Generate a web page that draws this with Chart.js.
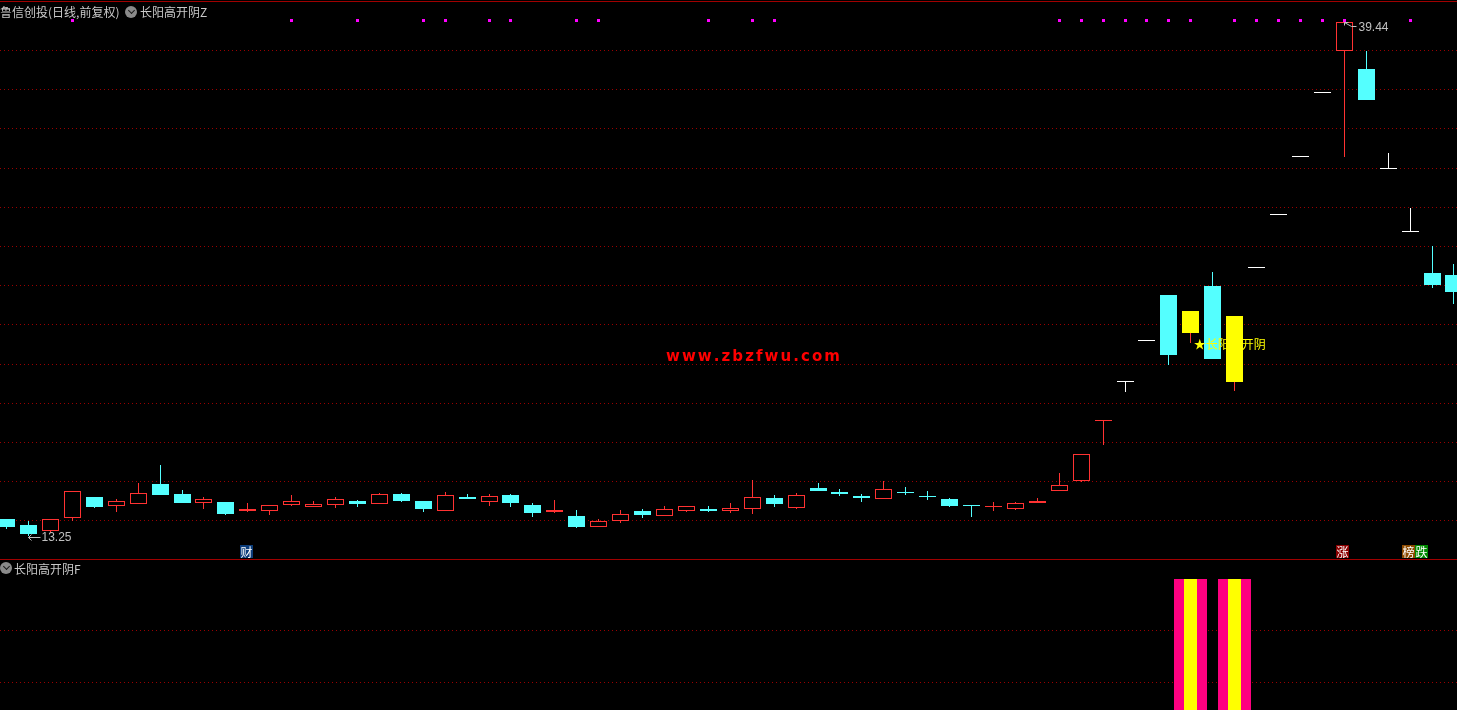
<!DOCTYPE html>
<html>
<head>
<meta charset="utf-8">
<script src="https://cdn.jsdelivr.net/npm/chart.js@4.4.1/dist/chart.umd.min.js"></script>
<style>
  html, body { margin: 0; padding: 0; background: #000; overflow: hidden; }
  #wrap { position: relative; width: 1457px; height: 710px; background: #000; }
  canvas { position: absolute; left: 0; }
  #main { top: 0; }
  #sub { top: 560px; }
  .rule { position: absolute; left: 0; width: 1457px; height: 1px; background: #a00000; }
  .title { position: absolute; font: 12px "Noto Sans CJK SC", sans-serif; color: #c8c8c8; white-space: nowrap; line-height: 13px; }
  .knob { position: absolute; width: 12px; height: 12px; border-radius: 50%; background: #8a8a8a; }
  .knob::after { content: ''; position: absolute; left: 3.5px; top: 2px; width: 4px; height: 4px;
    border-right: 1.5px solid #1a1a1a; border-bottom: 1.5px solid #1a1a1a; transform: rotate(45deg); }
</style>
</head>
<body>
<div id="wrap">
  <canvas id="main" width="1457" height="559"></canvas>
  <canvas id="sub" width="1457" height="150"></canvas>
  <div class="rule" style="top:1px"></div>
  <div class="rule" style="top:559px"></div>
  <div class="title" style="left:0;top:5px">鲁信创投(日线,前复权)</div>
  <div class="knob" style="left:125px;top:6px"></div>
  <div class="title" style="left:140px;top:5px">长阳高开阴Z</div>
  <div class="knob" style="left:0;top:562px"></div>
  <div class="title" style="left:14px;top:562px">长阳高开阴F</div>
</div>
<script>
// daily candles, oldest first
const opens  = [14.10,13.80,13.47,14.17,15.22,14.78,14.88,15.89,15.38,14.93,14.97,14.51,14.53,14.83,14.73,14.83,15.02,14.88,15.38,15.02,
                14.53,15.22,14.98,15.33,14.82,14.46,14.26,13.71,14.02,14.51,14.27,14.53,14.61,14.53,14.63,15.17,14.68,15.68,15.48,15.28,
                15.14,15.43,15.22,15.12,14.75,14.70,14.63,14.92,15.55,16.06,19.10,21.08,23.19,25.51,23.61,25.99,21.11,26.93,29.62,32.58,
                35.84,37.99,37.06,31.95,28.76,26.65,26.55];
const highs  = [14.12,14.00,14.09,15.53,15.22,15.12,15.94,16.86,15.57,15.22,14.97,14.92,14.80,15.33,15.02,15.22,15.07,15.43,15.43,15.02,
                15.48,15.38,15.38,15.38,14.92,15.07,14.56,14.10,14.56,14.61,14.77,14.77,14.77,14.92,16.09,15.33,15.43,15.94,15.63,15.38,
                16.04,15.73,15.53,15.17,14.76,14.95,14.97,15.17,16.45,17.40,19.16,21.08,23.19,25.51,24.72,26.70,24.48,26.93,29.62,32.58,
                35.84,39.44,37.98,32.78,29.97,28.03,27.11];
const lows   = [13.61,13.25,13.41,14.02,14.68,14.47,14.88,15.34,14.93,14.63,14.32,14.47,14.32,14.78,14.73,14.68,14.73,14.88,14.98,14.47,
                14.53,15.14,14.78,14.73,14.22,14.42,13.66,13.71,13.91,14.17,14.27,14.47,14.47,14.42,14.37,14.71,14.63,15.53,15.28,14.97,
                15.14,15.33,15.07,14.71,14.22,14.53,14.58,14.92,15.55,16.00,17.88,20.60,23.19,21.96,23.10,22.25,20.65,26.93,29.62,32.58,
                35.84,32.59,35.50,31.95,28.76,25.90,25.09];
const closes = [13.71,13.32,14.09,15.53,14.73,15.02,15.43,15.34,14.93,15.11,14.37,14.60,14.80,15.01,14.87,15.11,14.88,15.38,15.04,14.63,
                15.33,15.14,15.28,14.93,14.42,14.56,13.71,14.00,14.36,14.32,14.61,14.77,14.51,14.66,15.22,14.87,15.33,15.53,15.38,15.17,
                15.63,15.42,15.21,14.78,14.74,14.71,14.90,15.02,15.82,17.40,19.16,21.08,23.19,22.47,24.72,22.25,24.48,26.93,29.62,32.58,
                35.84,39.44,35.50,31.95,28.76,26.04,25.68];

const yellowDays = [54, 56];                 // 长阳 before 高开阴
const zDays = [3,13,16,19,20,22,23,26,27,32,34,35,48,49,50,51,52,53,54,56,57,58,59,60,61,64];
const zLevel = 39.55;
const fDays = [54, 56];                      // 长阳高开阴F
const signalDay = 54;
const signalText = '★长阳高开阴';
const badgeDays = [11, 61, 64, 64];
const badgeText = ['财', '涨', '榜', '跌'];
const gridMain = [14,16,18,20,22,24,26,28,30,32,34,36,38];
const gridSub = [0.5, 0.75];

const RED = '#ff3232', CYAN = '#54ffff', WHITE = '#ffffff', YELLOW = '#ffff00';
const badgeBg = ['#0b3c7a', '#8a0000', '#8c4a00', '#008a00'];

const days = closes.map((c, i) => i);
function tone(i) {
  if (yellowDays.includes(i)) return YELLOW;
  if (closes[i] > opens[i]) return RED;
  if (closes[i] < opens[i]) return CYAN;
  return WHITE;
}
const bodyColor = days.map(tone);
const bodyFill = days.map(i => bodyColor[i] === RED ? '#000' : bodyColor[i]);
const wickColor = days.map(i => bodyColor[i] === YELLOW ? RED : bodyColor[i]);

const xScale = { type: 'linear', display: false, offset: false, min: -0.301, max: 66.137 };

function hiddenY(min, max, grid) {
  return {
    min, max,
    afterFit: s => { s.width = 0; },
    afterBuildTicks: s => { s.ticks = grid.map(v => ({ value: v })); },
    ticks: { display: false },
    grid: { color: '#9a0000', drawTicks: false, lineWidth: 1 },
    border: { display: false, dash: [1, 3] }
  };
}

// keep bar edges and markers on whole pixels so thin outlines stay sharp
const snap = {
  id: 'snap',
  afterDatasetsUpdate(chart) {
    chart.getSortedVisibleDatasetMetas().forEach(meta => {
      meta.data.forEach(el => {
        if (meta.type === 'bar') {
          el.x = Math.floor(el.x) + 0.5;
          el.y = Math.round(el.y);
          el.base = Math.round(el.base);
        } else {
          el.x = Math.floor(el.x) + 0.5;
          el.y = Math.floor(el.y) + 0.5;
        }
      });
    });
  }
};

const marks = {
  id: 'marks',
  afterDatasetsDraw(chart) {
    const { ctx, scales: { x, y } } = chart;
    ctx.save();
    ctx.strokeStyle = '#c0c0c0';
    ctx.fillStyle = '#c0c0c0';
    ctx.lineWidth = 1;
    ctx.font = '12px "Liberation Sans", Arial, sans-serif';
    ctx.textBaseline = 'middle';

    // lowest low
    const lo = lows.indexOf(Math.min(...lows));
    let px = Math.floor(x.getPixelForValue(lo)) + 0.5, py = Math.round(y.getPixelForValue(lows[lo])) + 1.5;
    ctx.beginPath();
    ctx.moveTo(px, py); ctx.lineTo(px + 12, py);
    ctx.moveTo(px, py); ctx.lineTo(px + 3, py - 3);
    ctx.moveTo(px, py); ctx.lineTo(px + 3, py + 3);
    ctx.stroke();
    ctx.fillText(lows[lo].toFixed(2), px + 13, py);

    // highest high
    const hi = highs.indexOf(Math.max(...highs));
    px = Math.floor(x.getPixelForValue(hi)) + 0.5; py = Math.round(y.getPixelForValue(highs[hi])) + 0.5;
    ctx.beginPath();
    ctx.moveTo(px, py); ctx.lineTo(px + 7, py + 4); ctx.lineTo(px + 12, py + 4);
    ctx.moveTo(px, py); ctx.lineTo(px + 4, py);
    ctx.moveTo(px, py); ctx.lineTo(px, py + 3);
    ctx.stroke();
    ctx.fillText(highs[hi].toFixed(2), px + 14, py + 5);

    // signal text
    ctx.font = '12px "Noto Sans CJK SC", sans-serif';
    ctx.fillStyle = YELLOW;
    ctx.fillText(signalText, x.getPixelForValue(signalDay) + 3, y.getPixelForValue(lows[signalDay]) + 2);

    // badges along the bottom
    let lastDay = -1, shift = 0;
    badgeDays.forEach((d, k) => {
      shift = d === lastDay ? shift + 13 : 0;
      lastDay = d;
      const bx = Math.round(x.getPixelForValue(d) - 8 + shift);
      ctx.fillStyle = badgeBg[k];
      ctx.fillRect(bx, 545, 13, 13);
      ctx.fillStyle = '#ffffff';
      ctx.textAlign = 'center';
      ctx.fillText(badgeText[k], bx + 6.5, 552);
    });

    // watermark
    const mark = 'www.zbzfwu.com';
    ctx.font = 'bold 15px "DejaVu Sans", sans-serif';
    ctx.fillStyle = '#ff0000';
    ctx.textAlign = 'left';
    ctx.textBaseline = 'alphabetic';
    const plain = ctx.measureText(mark).width;
    const gap = (173 - plain) / (mark.length - 1);
    let wx = 666;
    for (const ch of mark) {
      ctx.fillText(ch, wx, 361);
      wx += ctx.measureText(ch).width + gap;
    }
    ctx.restore();
  }
};

new Chart(document.getElementById('main'), {
  type: 'bar',
  data: {
    datasets: [
      {
        data: days.map(i => ({ x: i, y: [opens[i], closes[i]] })),
        backgroundColor: bodyFill,
        borderColor: bodyColor,
        borderWidth: 1,
        borderSkipped: false,
        inflateAmount: 0,
        minBarLength: 1,
        barThickness: 17,
        grouped: false
      },
      {
        data: days.map(i => ({ x: i, y: [lows[i], highs[i]] })),
        backgroundColor: wickColor,
        borderWidth: 0,
        inflateAmount: 0,
        barThickness: 1,
        grouped: false
      },
      {
        type: 'scatter',
        data: zDays.map(i => ({ x: i, y: zLevel })),
        pointStyle: 'rect',
        pointRadius: 2.13,
        pointBorderWidth: 0,
        backgroundColor: '#ff00ff'
      }
    ]
  },
  options: {
    responsive: false,
    animation: false,
    devicePixelRatio: 1,
    events: [],
    layout: { padding: 0, autoPadding: false },
    plugins: { legend: { display: false }, tooltip: { enabled: false } },
    scales: { x: xScale, y: hiddenY(12.06, 40.58, gridMain) }
  },
  plugins: [snap, marks]
});

new Chart(document.getElementById('sub'), {
  type: 'bar',
  data: {
    datasets: [
      {
        data: fDays.map(i => ({ x: i, y: [0, 1] })),
        backgroundColor: YELLOW,
        borderWidth: 0,
        inflateAmount: 0,
        barThickness: 13,
        grouped: false
      },
      {
        data: fDays.map(i => ({ x: i, y: [0, 1] })),
        backgroundColor: '#ff0080',
        borderWidth: 0,
        inflateAmount: 0,
        barThickness: 33,
        grouped: false
      }
    ]
  },
  options: {
    responsive: false,
    animation: false,
    devicePixelRatio: 1,
    events: [],
    layout: { padding: 0, autoPadding: false },
    plugins: { legend: { display: false }, tooltip: { enabled: false } },
    scales: { x: xScale, y: hiddenY(0.37, 1.091, gridSub) }
  },
  plugins: [snap]
});
</script>
</body>
</html>
